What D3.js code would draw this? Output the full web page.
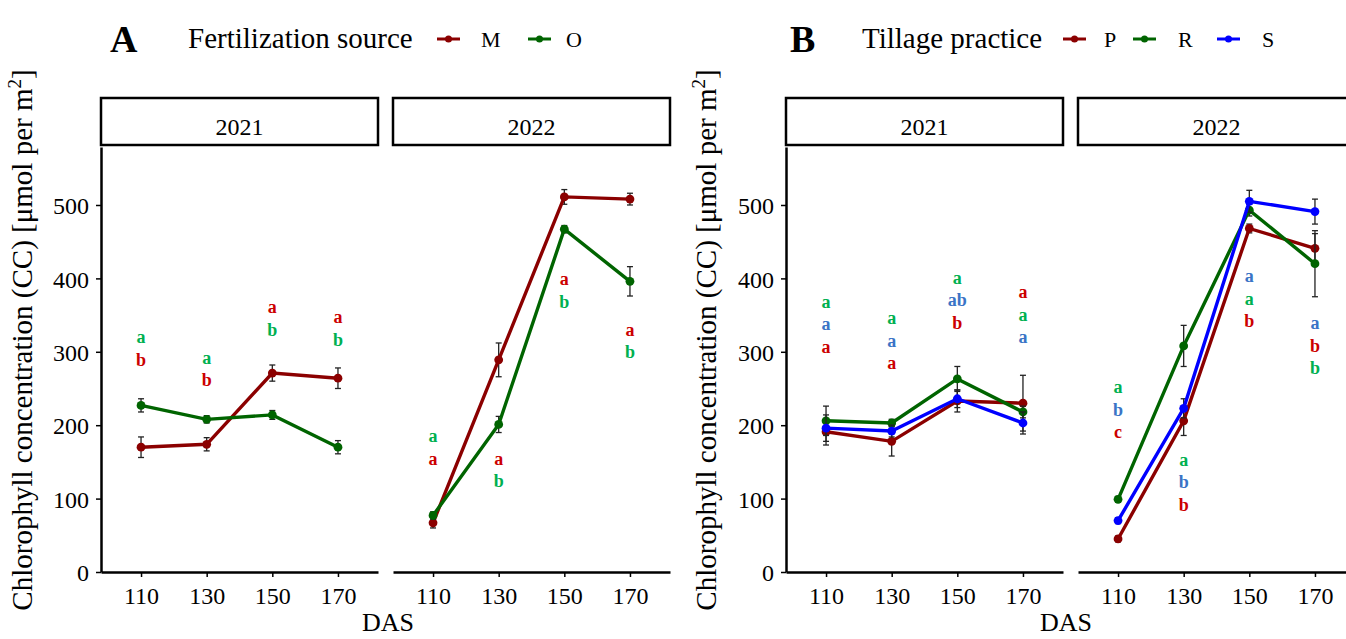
<!DOCTYPE html>
<html>
<head>
<meta charset="utf-8">
<title>Chlorophyll concentration</title>
<script src="https://d3js.org/d3.v7.min.js"></script>
<style>
  body { margin: 0; background: #fff; }
  text { font-family: "Liberation Serif", "Times New Roman", serif; }
</style>
</head>
<body>
<script>
// ---- data ----
const das = [110, 130, 150, 170];
const years = ["2021", "2022"];
const yTicks = [0, 100, 200, 300, 400, 500];

// A: fertilization source (mean, se)
const fertGroups = ["M", "O"];
const fertM_2021 = [170, 174, 271, 264];
const fertM_2021_se = [14, 9, 11, 14];
const fertO_2021 = [227, 208, 214, 170];
const fertO_2021_se = [9, 5, 6, 9];
const fertM_2022 = [67, 289, 511, 508];
const fertM_2022_se = [7, 23, 10, 8];
const fertO_2022 = [77, 201, 467, 396];
const fertO_2022_se = [5, 11, 5, 20];
// letters, top to bottom, and which group each belongs to
const fertLetters_2021 = [["a", "b"], ["a", "b"], ["a", "b"], ["a", "b"]];
const fertLetterGroups_2021 = [["O", "M"], ["O", "M"], ["M", "O"], ["M", "O"]];
const fertLetterTop_2021 = [320, 292, 361, 347];
const fertLetters_2022 = [["a", "a"], ["a", "b"], ["a", "b"], ["a", "b"]];
const fertLetterGroups_2022 = [["O", "M"], ["M", "O"], ["M", "O"], ["M", "O"]];
const fertLetterTop_2022 = [185, 154, 399, 330];

// B: tillage practice
const tillGroups = ["P", "R", "S"];
const tillP_2021 = [191, 178, 233, 230];
const tillP_2021_se = [18, 20, 15, 38];
const tillR_2021 = [206, 203, 263, 218];
const tillR_2021_se = [20, 5, 17, 8];
const tillS_2021 = [196, 192, 236, 203];
const tillS_2021_se = [18, 8, 12, 15];
const tillP_2022 = [45, 206, 468, 441];
const tillP_2022_se = [4, 20, 6, 20];
const tillR_2022 = [99, 308, 493, 420];
const tillR_2022_se = [4, 28, 8, 45];
const tillS_2022 = [70, 223, 505, 491];
const tillS_2022_se = [4, 13, 15, 17];
const tillLetters_2021 = [["a", "a", "a"], ["a", "a", "a"], ["a", "ab", "b"], ["a", "a", "a"]];
const tillLetterGroups_2021 = [["R", "S", "P"], ["R", "S", "P"], ["R", "S", "P"], ["P", "R", "S"]];
const tillLetterTop_2021 = [368, 346, 401, 381];
const tillLetters_2022 = [["a", "b", "c"], ["a", "b", "b"], ["a", "a", "b"], ["a", "b", "b"]];
const tillLetterGroups_2022 = [["R", "S", "P"], ["R", "S", "P"], ["S", "R", "P"], ["S", "P", "R"]];
const tillLetterTop_2022 = [252, 153, 403, 339];

// ---- styles ----
const lineColor = { M: "#8b0000", O: "#006400", P: "#8b0000", R: "#006400", S: "#0000ff" };
const letterColor = { M: "#cc0000", O: "#00b050", P: "#cc0000", R: "#00b050", S: "#3a74c6" };

const panels = [
  {
    tag: "A", title: "Fertilization source", groups: fertGroups,
    tagX: 110, titleX: 188, keyX: [437, 528], keyTextX: [481, 566],
    facetX: [101, 393], ylabX: 32, dasX: 388,
    series: {
      "2021": { M: [fertM_2021, fertM_2021_se], O: [fertO_2021, fertO_2021_se] },
      "2022": { M: [fertM_2022, fertM_2022_se], O: [fertO_2022, fertO_2022_se] }
    },
    letters: {
      "2021": [fertLetters_2021, fertLetterGroups_2021, fertLetterTop_2021],
      "2022": [fertLetters_2022, fertLetterGroups_2022, fertLetterTop_2022]
    }
  },
  {
    tag: "B", title: "Tillage practice", groups: tillGroups,
    tagX: 790, titleX: 862, keyX: [1063, 1133, 1217], keyTextX: [1104, 1178, 1262],
    facetX: [786, 1078], ylabX: 716, dasX: 1066,
    series: {
      "2021": { P: [tillP_2021, tillP_2021_se], R: [tillR_2021, tillR_2021_se], S: [tillS_2021, tillS_2021_se] },
      "2022": { P: [tillP_2022, tillP_2022_se], R: [tillR_2022, tillR_2022_se], S: [tillS_2022, tillS_2022_se] }
    },
    letters: {
      "2021": [tillLetters_2021, tillLetterGroups_2021, tillLetterTop_2021],
      "2022": [tillLetters_2022, tillLetterGroups_2022, tillLetterTop_2022]
    }
  }
];

const W = 1346, H = 639;
const facetW = 277;
const plotTop = 147, plotBottom = 572;
const stripTop = 98;

const svg = d3.select("body").append("svg").attr("width", W).attr("height", H);

const y = d3.scaleLinear().domain([0, 579]).range([plotBottom, plotTop]);

panels.forEach(function(p) {
  const g = svg.append("g");

  // header: tag, legend title, keys
  g.append("text").attr("x", p.tagX).attr("y", 52)
    .style("font-size", "38px").style("font-weight", "bold").text(p.tag);
  g.append("text").attr("x", p.titleX).attr("y", 48)
    .style("font-size", "29px").text(p.title);
  p.groups.forEach(function(k, i) {
    const kx = p.keyX[i];
    g.append("line").attr("x1", kx).attr("x2", kx + 23).attr("y1", 39).attr("y2", 39)
      .attr("stroke", lineColor[k]).attr("stroke-width", 3);
    g.append("circle").attr("cx", kx + 11.5).attr("cy", 39).attr("r", 3.5).attr("fill", lineColor[k]);
    g.append("text").attr("x", p.keyTextX[i]).attr("y", 47)
      .style("font-size", "22px").text(k);
  });

  // y-axis title
  const yl = g.append("text")
    .attr("transform", "translate(" + p.ylabX + "," + 340 + ") rotate(-90)")
    .attr("text-anchor", "middle").style("font-size", "29px");
  yl.append("tspan").text("Chlorophyll concentration (CC) [\u03bcmol per m");
  yl.append("tspan").attr("dy", "-11").style("font-size", "19px").text("2");
  yl.append("tspan").attr("dy", "11").text("]");

  // x-axis title
  g.append("text").attr("x", p.dasX).attr("y", 631).attr("text-anchor", "middle")
    .style("font-size", "26px").text("DAS");

  years.forEach(function(yr, fi) {
    const x0 = p.facetX[fi];
    const x = d3.scaleLinear().domain([97.8, 182.2]).range([x0, x0 + facetW]);
    const fg = g.append("g");

    // strip
    fg.append("rect").attr("x", x0).attr("y", stripTop).attr("width", facetW).attr("height", plotTop - stripTop - 2)
      .attr("fill", "#fff").attr("stroke", "#000").attr("stroke-width", 2.5);
    fg.append("text").attr("x", x0 + facetW / 2).attr("y", 135).attr("text-anchor", "middle")
      .style("font-size", "24px").text(yr);

    // x axis
    const xa = fg.append("g").attr("transform", "translate(0," + plotBottom + ")")
      .call(d3.axisBottom(x).tickValues(das).tickSize(5).tickSizeOuter(0).tickFormat(d3.format("d")));
    xa.select(".domain").attr("stroke", "#000").attr("stroke-width", 2.5);
    xa.selectAll(".tick line").attr("stroke", "#000").attr("stroke-width", 1.5);
    xa.selectAll("text").attr("y", 32).attr("dy", null).attr("fill", "#000")
      .style("font-family", "'Liberation Serif', serif").style("font-size", "24px");

    // y axis (first facet only)
    if (fi === 0) {
      const ya = fg.append("g").attr("transform", "translate(" + x0 + ",0)")
        .call(d3.axisLeft(y).tickValues(yTicks).tickSize(5).tickSizeOuter(0).tickPadding(7));
      ya.select(".domain").attr("stroke", "#000").attr("stroke-width", 2.5);
      ya.selectAll(".tick line").attr("stroke", "#000").attr("stroke-width", 1.5);
      ya.selectAll("text").attr("fill", "#000").attr("dy", "0.36em")
        .style("font-family", "'Liberation Serif', serif").style("font-size", "24px");
    }

    // series
    p.groups.forEach(function(k) {
      const vals = p.series[yr][k][0];
      const se = p.series[yr][k][1];
      const pts = das.map(function(d, i) { return { das: d, v: vals[i], se: se[i] }; });

      const eb = fg.append("g").attr("stroke", "#222").attr("stroke-width", 1.3);
      pts.forEach(function(d) {
        const cx = x(d.das);
        eb.append("line").attr("x1", cx).attr("x2", cx).attr("y1", y(d.v - d.se)).attr("y2", y(d.v + d.se));
        eb.append("line").attr("x1", cx - 3).attr("x2", cx + 3).attr("y1", y(d.v - d.se)).attr("y2", y(d.v - d.se));
        eb.append("line").attr("x1", cx - 3).attr("x2", cx + 3).attr("y1", y(d.v + d.se)).attr("y2", y(d.v + d.se));
      });

      fg.append("path").datum(pts)
        .attr("d", d3.line().x(function(d) { return x(d.das); }).y(function(d) { return y(d.v); }))
        .attr("fill", "none").attr("stroke", lineColor[k]).attr("stroke-width", 3.4);
      fg.selectAll(null).data(pts).enter().append("circle")
        .attr("cx", function(d) { return x(d.das); })
        .attr("cy", function(d) { return y(d.v); })
        .attr("r", 4.4).attr("fill", lineColor[k]);
    });

    // significance letters
    const L = p.letters[yr];
    das.forEach(function(d, i) {
      L[0][i].forEach(function(letter, j) {
        fg.append("text")
          .attr("x", x(d)).attr("y", y(L[2][i]) + j * 22.5 + 6)
          .attr("text-anchor", "middle")
          .attr("fill", letterColor[L[1][i][j]])
          .style("font-size", "18px").style("font-weight", "bold")
          .text(letter);
      });
    });
  });
});
</script>
</body>
</html>
